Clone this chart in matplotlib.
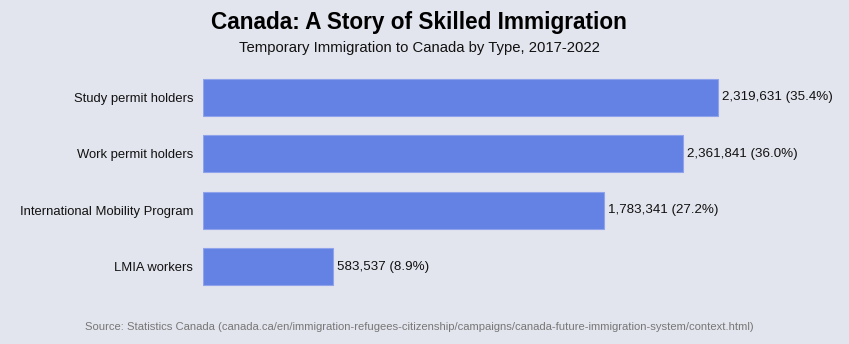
import matplotlib.pyplot as plt

plt.rcParams['font.family'] = ['Liberation Sans', 'DejaVu Sans']

categories = ['Study permit holders', 'Work permit holders',
              'International Mobility Program', 'LMIA workers']
# bar lengths as drawn in the picture (work permit bar is drawn shorter than its label)
bar_values = [2319631, 2162000, 1806000, 585500]
counts = [2319631, 2361841, 1783341, 583537]
shares = [35.4, 36.0, 27.2, 8.9]

bg = '#e3e5ee'
W, H = 849, 344
fig = plt.figure(figsize=(W / 100, H / 100), dpi=100, facecolor=bg)
ax = fig.add_axes([203 / W, 1 - 295 / H, 627 / W, 226 / H], facecolor=bg)

ypos = list(range(len(categories)))
ax.barh(ypos, bar_values, height=0.66, color='#6382e3', edgecolor='#8ea3ec', linewidth=0.8)
for y, v, c, s in zip(ypos, bar_values, counts, shares):
    ax.text(v + 17000, y, f'{c:,} ({s:.1f}%)', va='center', ha='left', fontsize=9.6, color='#111111')

ax.set_xlim(0, 627 * 4504)
ax.set_ylim(3.5, -0.5)
ax.set_yticks(ypos)
ax.set_yticklabels(categories, fontsize=9.4, color='#111111')
ax.tick_params(axis='y', length=0, pad=7)
ax.set_xticks([])
for sp in ax.spines.values():
    sp.set_visible(False)

fig.text(419 / W, 1 - 22 / H, 'Canada: A Story of Skilled Immigration', ha='center', va='center',
         fontsize=16.3, fontweight='bold', color='#000000')
fig.text(419 / W, 1 - 48 / H, 'Temporary Immigration to Canada by Type, 2017-2022', ha='center', va='center',
         fontsize=10.7, color='#111111')
fig.text(419 / W, 1 - 327 / H,
         'Source: Statistics Canada (canada.ca/en/immigration-refugees-citizenship/campaigns/canada-future-immigration-system/context.html)',
         ha='center', va='center', fontsize=8.1, color='#777777')

fig.savefig('out.png', dpi=100, facecolor=bg)
